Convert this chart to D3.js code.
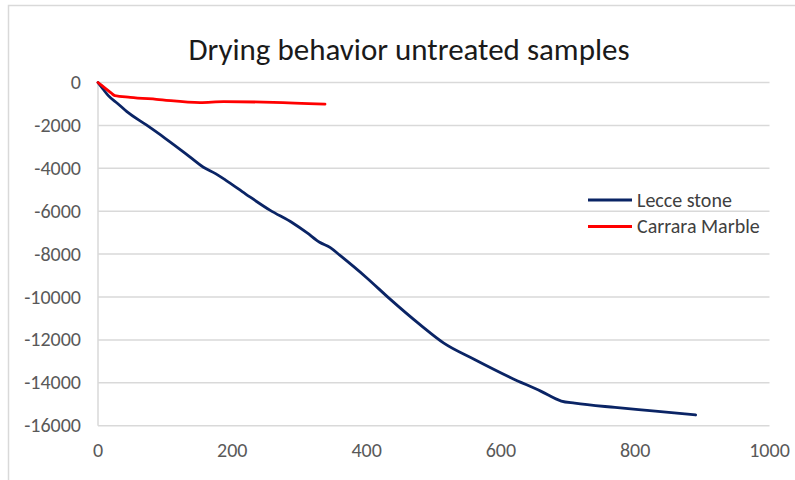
<!DOCTYPE html>
<html>
<head>
<meta charset="utf-8">
<script src="https://cdn.jsdelivr.net/npm/d3@7"></script>
<style>
  body { margin: 0; background: #fff; }
  svg text { font-family: Carlito, Calibri, Lato, "Open Sans", sans-serif; }
</style>
</head>
<body>
<div id="chart"></div>
<script>
// data
var lecceX = [0, 5, 15, 30, 43, 72, 100, 130, 157, 175, 190, 220, 256, 290, 311, 330, 346, 360, 400, 435, 480, 515, 560, 614, 660, 690, 710, 770, 830, 890]
var lecceY = [0, -200, -600, -1000, -1360, -1980, -2600, -3300, -3950, -4250, -4550, -5200, -5950, -6550, -7000, -7450, -7700, -8050, -9100, -10100, -11300, -12150, -12900, -13750, -14400, -14850, -14950, -15150, -15320, -15500]
var carraraX = [0, 10, 20, 25, 48, 87, 152, 187, 261, 338]
var carraraY = [0, -250, -500, -615, -690, -785, -940, -895, -925, -1010]
var xTicks = [0, 200, 400, 600, 800, 1000]
var yTicks = [0, -2000, -4000, -6000, -8000, -10000, -12000, -14000, -16000]
var seriesNames = ["Lecce stone", "Carrara Marble"]
var seriesColors = ["#0a2465", "#ff0000"]

var W = 795, H = 480
var svg = d3.select("#chart").append("svg").attr("width", W).attr("height", H)

// chart border
svg.append("rect")
    .attr("x", 8.5).attr("y", 5.5)
    .attr("width", 820).attr("height", 500)
    .attr("fill", "#fff")
    .attr("stroke", "#d9d9d9").attr("stroke-width", 1.5)

var x = d3.scaleLinear().domain([0, 1000]).range([98, 769.5])
var y = d3.scaleLinear().domain([0, -16000]).range([82.5, 425.7])

// gridlines
svg.append("g").selectAll("line")
    .data(yTicks)
    .enter()
    .append("line")
    .attr("x1", x(0)).attr("x2", x(1000))
    .attr("y1", d => y(d)).attr("y2", d => y(d))
    .attr("stroke", "#d9d9d9").attr("stroke-width", 1.5)

// y axis line
svg.append("line")
    .attr("x1", x(0)).attr("x2", x(0))
    .attr("y1", y(0)).attr("y2", y(-16000))
    .attr("stroke", "#d9d9d9").attr("stroke-width", 1.5)

// tick labels
svg.append("g").selectAll("text")
    .data(yTicks)
    .enter()
    .append("text")
    .text(d => d)
    .attr("x", 81).attr("y", d => y(d) + 6.5)
    .attr("text-anchor", "end")
    .attr("font-size", 20)
    .attr("fill", "#595959")

svg.append("g").selectAll("text")
    .data(xTicks)
    .enter()
    .append("text")
    .text(d => d)
    .attr("x", d => x(d)).attr("y", 457)
    .attr("text-anchor", "middle")
    .attr("font-size", 20)
    .attr("fill", "#595959")

// title
svg.append("text")
    .text("Drying behavior untreated samples")
    .attr("x", 409).attr("y", 60)
    .attr("text-anchor", "middle")
    .attr("font-size", 31)
    .attr("fill", "#1a1a1a")

// lines
var line = d3.line()
    .x(d => x(d[0]))
    .y(d => y(d[1]))
    .curve(d3.curveMonotoneX)

var series = [d3.zip(lecceX, lecceY), d3.zip(carraraX, carraraY)]
svg.append("g").selectAll("path")
    .data(series)
    .enter()
    .append("path")
    .attr("d", line)
    .attr("fill", "none")
    .attr("stroke", (d, i) => seriesColors[i])
    .attr("stroke-width", 2.8)
    .attr("stroke-linecap", "round")
    .attr("stroke-linejoin", "round")

// legend
var legend = svg.append("g").selectAll("g")
    .data(seriesNames)
    .enter()
    .append("g")
    .attr("transform", (d, i) => "translate(588," + (200 + i * 26.5) + ")")
legend.append("line")
    .attr("x1", 0).attr("x2", 44)
    .attr("stroke", (d, i) => seriesColors[i])
    .attr("stroke-width", 2.8)
legend.append("text")
    .text(d => d)
    .attr("x", 49).attr("y", 6.5)
    .attr("font-size", 20)
    .attr("fill", "#404040")
</script>
</body>
</html>
